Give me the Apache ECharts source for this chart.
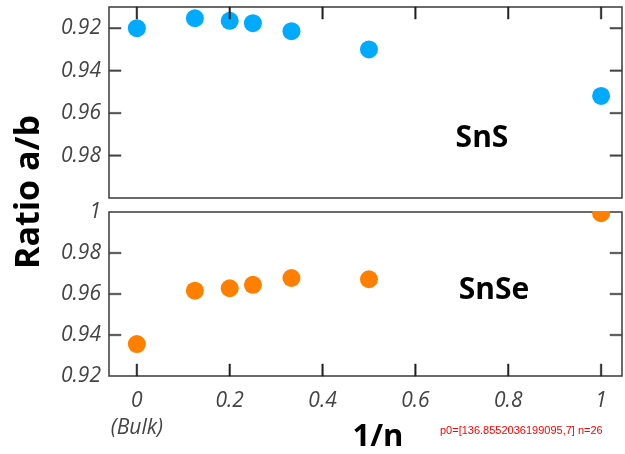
<!DOCTYPE html>
<html>
<head>
<meta charset="utf-8">
<script src="https://cdn.jsdelivr.net/npm/echarts@6/dist/echarts.min.js"></script>
<style>
html,body{margin:0;padding:0;background:#fff;}
#chart{width:625px;height:454px;}
</style>
</head>
<body>
<div id="chart"></div>
<script>
var invN = [0, 0.125, 0.2, 0.25, 0.333, 0.5, 1];
var snsRatio = [0.920, 0.9153, 0.9165, 0.9176, 0.9214, 0.930, 0.9519];
var snseRatio = [0.9356, 0.9616, 0.9628, 0.9645, 0.9678, 0.9672, 0.9994];
var xTicks = [0, 0.2, 0.4, 0.6, 0.8, 1];
var topYTicks = [0.92, 0.94, 0.96, 0.98];
var botYTicks = [0.92, 0.94, 0.96, 0.98, 1];
var botYInnerTicks = [0.94, 0.96, 0.98];

var X_MIN = -0.06, X_MAX = 1.045;
var TOP_MIN = 0.91, TOP_MAX = 1.0;
var BOT_MIN = 0.92, BOT_MAX = 1.0;
var TICK_LEN = 12;
var labelFont = { fontFamily: 'Open Sans', fontStyle: 'italic', fontSize: 21, color: '#444' };
function pairs(xs, ys) { return xs.map(function (x, i) { return [x, ys[i]]; }); }

var dbg = [];
var chart = echarts.init(document.getElementById('chart'), null, { renderer: 'canvas' });
try {
chart.setOption({
  animation: false,
  backgroundColor: '#fff',
  grid: [
    { left: 109, top: 7, width: 513, height: 191, show: true, borderColor: '#3a3a3a', borderWidth: 1.5 },
    { left: 109, top: 212, width: 513, height: 164, show: true, borderColor: '#3a3a3a', borderWidth: 1.5 }
  ],
  xAxis: [
    { type: 'value', gridIndex: 0, position: 'top', min: X_MIN, max: X_MAX,
      axisLine: { show: false, onZero: false }, splitLine: { show: false }, axisTick: { show: false }, axisLabel: { show: false } },
    { type: 'value', gridIndex: 1, position: 'bottom', min: X_MIN, max: X_MAX,
      axisLine: { show: false, onZero: false }, splitLine: { show: false }, axisTick: { show: false },
      axisLabel: Object.assign({ customValues: xTicks, margin: 12, lineHeight: 27,
        formatter: function (v) { return v === 0 ? '0\n(Bulk)' : String(v); } }, labelFont) }
  ],
  yAxis: [
    { type: 'value', gridIndex: 0, position: 'left', min: TOP_MIN, max: TOP_MAX, inverse: true,
      axisLine: { show: false, onZero: false }, splitLine: { show: false }, axisTick: { show: false },
      axisLabel: Object.assign({ customValues: topYTicks, margin: 8 }, labelFont) },
    { type: 'value', gridIndex: 1, position: 'left', min: BOT_MIN, max: BOT_MAX,
      axisLine: { show: false, onZero: false }, splitLine: { show: false }, axisTick: { show: false },
      axisLabel: Object.assign({ customValues: botYTicks, margin: 8, formatter: function (v) { return String(v); } }, labelFont) }
  ],
  series: [
    { type: 'scatter', name: 'SnS', xAxisIndex: 0, yAxisIndex: 0, symbol: 'circle', symbolSize: 18,
      itemStyle: { color: '#00aaff', opacity: 1 }, data: pairs(invN, snsRatio), z: 6 },
    { type: 'scatter', name: 'SnSe', xAxisIndex: 1, yAxisIndex: 1, symbol: 'circle', symbolSize: 18,
      itemStyle: { color: '#ff8000', opacity: 1 }, data: pairs(invN, snseRatio), z: 6 }
  ]
});
} catch (e) { dbg.push('E1:' + e.message); }

var g = [];
function tickRect(x, y, w, h, color) {
  g.push({ type: 'rect', z: 40, shape: { x: x, y: y, width: w, height: h }, style: { fill: color, stroke: color, lineWidth: 0.5 } });
}
try {
var p0 = chart.convertToPixel({ gridIndex: 0 }, [0, TOP_MIN]);
dbg.push('p0=' + JSON.stringify(p0));
xTicks.forEach(function (v) {
  var p = chart.convertToPixel({ gridIndex: 0 }, [v, TOP_MIN]);
  tickRect(p[0] - 0.75, p[1], 1.5, TICK_LEN, '#222');
  var q = chart.convertToPixel({ gridIndex: 1 }, [v, BOT_MIN]);
  tickRect(q[0] - 0.75, q[1] - TICK_LEN, 1.5, TICK_LEN, '#222');
});
topYTicks.forEach(function (v) {
  var l = chart.convertToPixel({ gridIndex: 0 }, [X_MIN, v]);
  var r = chart.convertToPixel({ gridIndex: 0 }, [X_MAX, v]);
  tickRect(l[0], l[1] - 0.75, TICK_LEN, 1.5, '#444');
  tickRect(r[0] - TICK_LEN, r[1] - 0.75, TICK_LEN, 1.5, '#444');
});
botYInnerTicks.forEach(function (v) {
  var l = chart.convertToPixel({ gridIndex: 1 }, [X_MIN, v]);
  var r = chart.convertToPixel({ gridIndex: 1 }, [X_MAX, v]);
  tickRect(l[0], l[1] - 0.75, TICK_LEN, 1.5, '#444');
  tickRect(r[0] - TICK_LEN, r[1] - 0.75, TICK_LEN, 1.5, '#444');
});
} catch (e) { dbg.push('E2:' + e.message); }
dbg.push('n=' + g.length);

g.push(
  { type: 'rect', z: 45, shape: { x: 100, y: 199, width: 525, height: 12 }, style: { fill: '#fff' } },
  { type: 'text', z: 60, x: 29, y: 192, rotation: Math.PI / 2,
    style: { text: 'Ratio a/b', fontFamily: 'Open Sans', fontWeight: 'bold', fontSize: 34, fill: '#000', align: 'center', verticalAlign: 'middle' } },
  { type: 'text', z: 60, x: 378, y: 437,
    style: { text: '1/n', fontFamily: 'Open Sans', fontWeight: 'bold', fontSize: 31, fill: '#000', align: 'center', verticalAlign: 'middle' } },
  { type: 'text', z: 60, x: 482, y: 138,
    style: { text: 'SnS', fontFamily: 'Open Sans', fontWeight: 'bold', fontSize: 30, fill: '#000', align: 'center', verticalAlign: 'middle' } },
  { type: 'text', z: 60, x: 494, y: 290,
    style: { text: 'SnSe', fontFamily: 'Open Sans', fontWeight: 'bold', fontSize: 30, fill: '#000', align: 'center', verticalAlign: 'middle' } },
  { type: 'text', z: 60, x: 440, y: 425, style: { text: dbg.join(' '), fontSize: 11, fill: 'red' } }
);
chart.setOption({ graphic: g });
</script>
</body>
</html>
